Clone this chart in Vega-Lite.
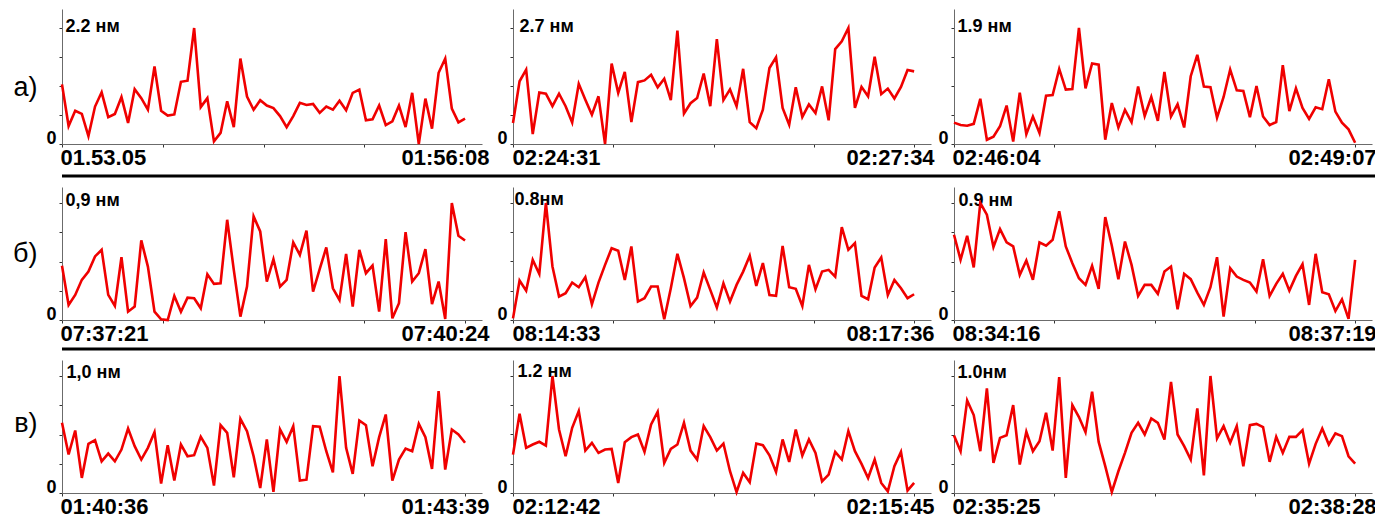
{
  "$schema": "https://vega.github.io/schema/vega-lite/v6.json",
  "padding": {"left": 12, "top": 9, "right": 0, "bottom": 0},
  "background": "white",
  "datasets": {
    "a1": [{"s":0,"v":1.13},{"s":3,"v":0.34},{"s":6,"v":0.63},{"s":9,"v":0.57},{"s":12,"v":0.15},{"s":15,"v":0.71},{"s":18,"v":0.98},{"s":21,"v":0.51},{"s":24,"v":0.57},{"s":27,"v":0.89},{"s":30,"v":0.40},{"s":33,"v":1.04},{"s":36,"v":0.87},{"s":39,"v":0.65},{"s":42,"v":1.47},{"s":45,"v":0.63},{"s":48,"v":0.54},{"s":51,"v":0.56},{"s":54,"v":1.18},{"s":57,"v":1.20},{"s":60,"v":2.20},{"s":63,"v":0.70},{"s":66,"v":0.87},{"s":69,"v":0.05},{"s":72,"v":0.21},{"s":75,"v":0.81},{"s":78,"v":0.32},{"s":81,"v":1.62},{"s":84,"v":0.90},{"s":87,"v":0.65},{"s":90,"v":0.83},{"s":93,"v":0.73},{"s":96,"v":0.68},{"s":99,"v":0.53},{"s":102,"v":0.32},{"s":105,"v":0.53},{"s":108,"v":0.78},{"s":111,"v":0.74},{"s":114,"v":0.76},{"s":117,"v":0.59},{"s":120,"v":0.71},{"s":123,"v":0.65},{"s":126,"v":0.82},{"s":129,"v":0.64},{"s":132,"v":0.97},{"s":135,"v":1.03},{"s":138,"v":0.45},{"s":141,"v":0.47},{"s":144,"v":0.73},{"s":147,"v":0.36},{"s":150,"v":0.43},{"s":153,"v":0.73},{"s":156,"v":0.32},{"s":159,"v":0.97},{"s":162,"v":0.00},{"s":165,"v":0.86},{"s":168,"v":0.29},{"s":171,"v":1.35},{"s":174,"v":1.62},{"s":177,"v":0.67},{"s":180,"v":0.41},{"s":183,"v":0.48}],
    "a2": [{"s":0,"v":0.49},{"s":3,"v":1.46},{"s":6,"v":1.73},{"s":9,"v":0.23},{"s":12,"v":1.20},{"s":15,"v":1.17},{"s":18,"v":0.88},{"s":21,"v":1.17},{"s":24,"v":0.88},{"s":27,"v":0.50},{"s":30,"v":1.40},{"s":33,"v":1.03},{"s":36,"v":0.68},{"s":39,"v":1.11},{"s":42,"v":0.00},{"s":45,"v":1.87},{"s":48,"v":1.19},{"s":51,"v":1.68},{"s":54,"v":0.51},{"s":57,"v":1.44},{"s":60,"v":1.48},{"s":63,"v":1.61},{"s":66,"v":1.32},{"s":69,"v":1.52},{"s":72,"v":1.02},{"s":75,"v":2.64},{"s":78,"v":0.71},{"s":81,"v":0.95},{"s":84,"v":1.07},{"s":87,"v":1.64},{"s":90,"v":0.88},{"s":93,"v":2.44},{"s":96,"v":1.02},{"s":99,"v":1.27},{"s":102,"v":0.88},{"s":105,"v":1.75},{"s":108,"v":0.51},{"s":111,"v":0.37},{"s":114,"v":0.80},{"s":117,"v":1.77},{"s":120,"v":2.02},{"s":123,"v":0.84},{"s":126,"v":0.45},{"s":129,"v":1.32},{"s":132,"v":0.63},{"s":135,"v":0.92},{"s":138,"v":0.72},{"s":141,"v":1.34},{"s":144,"v":0.55},{"s":147,"v":2.21},{"s":150,"v":2.39},{"s":153,"v":2.70},{"s":156,"v":0.84},{"s":159,"v":1.33},{"s":162,"v":1.11},{"s":165,"v":2.03},{"s":168,"v":1.16},{"s":171,"v":1.29},{"s":174,"v":1.06},{"s":177,"v":1.33},{"s":180,"v":1.72},{"s":183,"v":1.69}],
    "a3": [{"s":0,"v":0.35},{"s":3,"v":0.31},{"s":6,"v":0.30},{"s":9,"v":0.33},{"s":12,"v":0.74},{"s":15,"v":0.07},{"s":18,"v":0.12},{"s":21,"v":0.29},{"s":24,"v":0.63},{"s":27,"v":0.04},{"s":30,"v":0.84},{"s":33,"v":0.16},{"s":36,"v":0.45},{"s":39,"v":0.18},{"s":42,"v":0.79},{"s":45,"v":0.80},{"s":48,"v":1.23},{"s":51,"v":0.89},{"s":54,"v":0.90},{"s":57,"v":1.90},{"s":60,"v":0.91},{"s":63,"v":1.32},{"s":66,"v":1.30},{"s":69,"v":0.07},{"s":72,"v":0.67},{"s":75,"v":0.27},{"s":78,"v":0.56},{"s":81,"v":0.36},{"s":84,"v":0.94},{"s":87,"v":0.46},{"s":90,"v":0.77},{"s":93,"v":0.38},{"s":96,"v":1.18},{"s":99,"v":0.45},{"s":102,"v":0.65},{"s":105,"v":0.27},{"s":108,"v":1.11},{"s":111,"v":1.46},{"s":114,"v":0.94},{"s":117,"v":0.93},{"s":120,"v":0.43},{"s":123,"v":0.77},{"s":126,"v":1.22},{"s":129,"v":0.88},{"s":132,"v":0.87},{"s":135,"v":0.44},{"s":138,"v":0.95},{"s":141,"v":0.45},{"s":144,"v":0.31},{"s":147,"v":0.36},{"s":150,"v":1.29},{"s":153,"v":0.54},{"s":156,"v":0.91},{"s":159,"v":0.59},{"s":162,"v":0.41},{"s":165,"v":0.60},{"s":168,"v":0.57},{"s":171,"v":1.06},{"s":174,"v":0.53},{"s":177,"v":0.35},{"s":180,"v":0.24},{"s":183,"v":0.02}],
    "b1": [{"s":0,"v":0.417},{"s":3,"v":0.116},{"s":6,"v":0.193},{"s":9,"v":0.309},{"s":12,"v":0.373},{"s":15,"v":0.489},{"s":18,"v":0.54},{"s":21,"v":0.193},{"s":24,"v":0.108},{"s":27,"v":0.483},{"s":30,"v":0.064},{"s":33,"v":0.103},{"s":36,"v":0.612},{"s":39,"v":0.411},{"s":42,"v":0.064},{"s":45,"v":0.005},{"s":48,"v":0},{"s":51,"v":0.185},{"s":54,"v":0.064},{"s":57,"v":0.172},{"s":60,"v":0.167},{"s":63,"v":0.09},{"s":66,"v":0.352},{"s":69,"v":0.278},{"s":72,"v":0.283},{"s":75,"v":0.771},{"s":78,"v":0.386},{"s":81,"v":0.026},{"s":84,"v":0.257},{"s":87,"v":0.797},{"s":90,"v":0.681},{"s":93,"v":0.296},{"s":96,"v":0.468},{"s":99,"v":0.257},{"s":102,"v":0.309},{"s":105,"v":0.597},{"s":108,"v":0.501},{"s":111,"v":0.687},{"s":114,"v":0.219},{"s":117,"v":0.391},{"s":120,"v":0.558},{"s":123,"v":0.244},{"s":126,"v":0.154},{"s":129,"v":0.509},{"s":132,"v":0.103},{"s":135,"v":0.54},{"s":138,"v":0.36},{"s":141,"v":0.419},{"s":144,"v":0.064},{"s":147,"v":0.622},{"s":150,"v":0.013},{"s":153,"v":0.129},{"s":156,"v":0.676},{"s":159,"v":0.296},{"s":162,"v":0.36},{"s":165,"v":0.545},{"s":168,"v":0.123},{"s":171,"v":0.296},{"s":174,"v":0.008},{"s":177,"v":0.9},{"s":180,"v":0.648},{"s":183,"v":0.612}],
    "b2": [{"s":0,"v":0.011},{"s":3,"v":0.27},{"s":6,"v":0.201},{"s":9,"v":0.411},{"s":12,"v":0.315},{"s":15,"v":0.8},{"s":18,"v":0.366},{"s":21,"v":0.16},{"s":24,"v":0.183},{"s":27,"v":0.256},{"s":30,"v":0.224},{"s":33,"v":0.293},{"s":36,"v":0.107},{"s":39,"v":0.256},{"s":42,"v":0.377},{"s":45,"v":0.491},{"s":48,"v":0.473},{"s":51,"v":0.274},{"s":54,"v":0.503},{"s":57,"v":0.126},{"s":60,"v":0.149},{"s":63,"v":0.229},{"s":66,"v":0.229},{"s":69,"v":0.005},{"s":72,"v":0.217},{"s":75,"v":0.453},{"s":78,"v":0.286},{"s":81,"v":0.096},{"s":84,"v":0.153},{"s":87,"v":0.325},{"s":90,"v":0.206},{"s":93,"v":0.085},{"s":96,"v":0.251},{"s":99,"v":0.126},{"s":102,"v":0.24},{"s":105,"v":0.331},{"s":108,"v":0.439},{"s":111,"v":0.233},{"s":114,"v":0.389},{"s":117,"v":0.171},{"s":120,"v":0.165},{"s":123,"v":0.507},{"s":126,"v":0.224},{"s":129,"v":0.213},{"s":132,"v":0.096},{"s":135,"v":0.377},{"s":138,"v":0.21},{"s":141,"v":0.331},{"s":144,"v":0.343},{"s":147,"v":0.297},{"s":150,"v":0.635},{"s":153,"v":0.48},{"s":156,"v":0.526},{"s":159,"v":0.165},{"s":162,"v":0.142},{"s":165,"v":0.359},{"s":168,"v":0.427},{"s":171,"v":0.171},{"s":174,"v":0.274},{"s":177,"v":0.217},{"s":180,"v":0.149},{"s":183,"v":0.176}],
    "b3": [{"s":0,"v":0.656},{"s":3,"v":0.463},{"s":6,"v":0.648},{"s":9,"v":0.404},{"s":12,"v":0.9},{"s":15,"v":0.81},{"s":18,"v":0.561},{"s":21,"v":0.699},{"s":24,"v":0.597},{"s":27,"v":0.566},{"s":30,"v":0.347},{"s":33,"v":0.458},{"s":36,"v":0.309},{"s":39,"v":0.597},{"s":42,"v":0.571},{"s":45,"v":0.617},{"s":48,"v":0.836},{"s":51,"v":0.566},{"s":54,"v":0.437},{"s":57,"v":0.321},{"s":60,"v":0.27},{"s":63,"v":0.417},{"s":66,"v":0.239},{"s":69,"v":0.792},{"s":72,"v":0.571},{"s":75,"v":0.314},{"s":78,"v":0.604},{"s":81,"v":0.424},{"s":84,"v":0.185},{"s":87,"v":0.27},{"s":90,"v":0.27},{"s":93,"v":0.201},{"s":96,"v":0.373},{"s":99,"v":0.411},{"s":102,"v":0.082},{"s":105,"v":0.355},{"s":108,"v":0.314},{"s":111,"v":0.211},{"s":114,"v":0.116},{"s":117,"v":0.252},{"s":120,"v":0.483},{"s":123,"v":0.026},{"s":126,"v":0.399},{"s":129,"v":0.334},{"s":132,"v":0.309},{"s":135,"v":0.288},{"s":138,"v":0.219},{"s":141,"v":0.468},{"s":144,"v":0.185},{"s":147,"v":0.278},{"s":150,"v":0.355},{"s":153,"v":0.226},{"s":156,"v":0.339},{"s":159,"v":0.429},{"s":162,"v":0.116},{"s":165,"v":0.509},{"s":168,"v":0.213},{"s":171,"v":0.198},{"s":174,"v":0.069},{"s":177,"v":0.159},{"s":180,"v":0.008},{"s":183,"v":0.463}],
    "c1": [{"s":0,"v":0.6},{"s":3,"v":0.329},{"s":6,"v":0.534},{"s":9,"v":0.129},{"s":12,"v":0.42},{"s":15,"v":0.451},{"s":18,"v":0.271},{"s":21,"v":0.337},{"s":24,"v":0.271},{"s":27,"v":0.371},{"s":30,"v":0.551},{"s":33,"v":0.4},{"s":36,"v":0.286},{"s":39,"v":0.386},{"s":42,"v":0.52},{"s":45,"v":0.08},{"s":48,"v":0.409},{"s":51,"v":0.106},{"s":54,"v":0.414},{"s":57,"v":0.314},{"s":60,"v":0.323},{"s":63,"v":0.48},{"s":66,"v":0.386},{"s":69,"v":0.063},{"s":72,"v":0.58},{"s":75,"v":0.514},{"s":78,"v":0.134},{"s":81,"v":0.634},{"s":84,"v":0.529},{"s":87,"v":0.314},{"s":90,"v":0.043},{"s":93,"v":0.457},{"s":96,"v":0.009},{"s":99,"v":0.543},{"s":102,"v":0.437},{"s":105,"v":0.571},{"s":108,"v":0.106},{"s":111,"v":0.114},{"s":114,"v":0.571},{"s":117,"v":0.566},{"s":120,"v":0.357},{"s":123,"v":0.177},{"s":126,"v":1.0},{"s":129,"v":0.386},{"s":132,"v":0.163},{"s":135,"v":0.62},{"s":138,"v":0.58},{"s":141,"v":0.229},{"s":144,"v":0.477},{"s":147,"v":0.671},{"s":150,"v":0.106},{"s":153,"v":0.286},{"s":156,"v":0.38},{"s":159,"v":0.357},{"s":162,"v":0.591},{"s":165,"v":0.477},{"s":168,"v":0.206},{"s":171,"v":0.871},{"s":174,"v":0.2},{"s":177,"v":0.543},{"s":180,"v":0.5},{"s":183,"v":0.429}],
    "c2": [{"s":0,"v":0.394},{"s":3,"v":0.813},{"s":6,"v":0.463},{"s":9,"v":0.497},{"s":12,"v":0.525},{"s":15,"v":0.487},{"s":18,"v":1.2},{"s":21,"v":0.651},{"s":24,"v":0.377},{"s":27,"v":0.669},{"s":30,"v":0.84},{"s":33,"v":0.435},{"s":36,"v":0.514},{"s":39,"v":0.411},{"s":42,"v":0.446},{"s":45,"v":0.453},{"s":48,"v":0.103},{"s":51,"v":0.521},{"s":54,"v":0.573},{"s":57,"v":0.6},{"s":60,"v":0.422},{"s":63,"v":0.703},{"s":66,"v":0.833},{"s":69,"v":0.309},{"s":72,"v":0.453},{"s":75,"v":0.497},{"s":78,"v":0.72},{"s":81,"v":0.435},{"s":84,"v":0.343},{"s":87,"v":0.686},{"s":90,"v":0.573},{"s":93,"v":0.435},{"s":96,"v":0.507},{"s":99,"v":0.223},{"s":102,"v":0.01},{"s":105,"v":0.206},{"s":108,"v":0.11},{"s":111,"v":0.507},{"s":114,"v":0.49},{"s":117,"v":0.387},{"s":120,"v":0.216},{"s":123,"v":0.549},{"s":126,"v":0.319},{"s":129,"v":0.651},{"s":132,"v":0.384},{"s":135,"v":0.549},{"s":138,"v":0.411},{"s":141,"v":0.12},{"s":144,"v":0.189},{"s":147,"v":0.422},{"s":150,"v":0.343},{"s":153,"v":0.634},{"s":156,"v":0.429},{"s":159,"v":0.298},{"s":162,"v":0.154},{"s":165,"v":0.343},{"s":168,"v":0.103},{"s":171,"v":0.017},{"s":174,"v":0.274},{"s":177,"v":0.422},{"s":180,"v":0.024},{"s":183,"v":0.103}],
    "c3": [{"s":0,"v":0.491},{"s":3,"v":0.357},{"s":6,"v":0.791},{"s":9,"v":0.666},{"s":12,"v":0.357},{"s":15,"v":0.894},{"s":18,"v":0.257},{"s":21,"v":0.471},{"s":24,"v":0.494},{"s":27,"v":0.751},{"s":30,"v":0.243},{"s":33,"v":0.523},{"s":36,"v":0.357},{"s":39,"v":0.443},{"s":42,"v":0.686},{"s":45,"v":0.363},{"s":48,"v":0.99},{"s":51,"v":0.129},{"s":54,"v":0.751},{"s":57,"v":0.649},{"s":60,"v":0.52},{"s":63,"v":0.866},{"s":66,"v":0.437},{"s":69,"v":0.229},{"s":72,"v":0.009},{"s":75,"v":0.186},{"s":78,"v":0.343},{"s":81,"v":0.514},{"s":84,"v":0.6},{"s":87,"v":0.5},{"s":90,"v":0.637},{"s":93,"v":0.6},{"s":96,"v":0.457},{"s":99,"v":0.949},{"s":102,"v":0.5},{"s":105,"v":0.4},{"s":108,"v":0.286},{"s":111,"v":0.723},{"s":114,"v":0.151},{"s":117,"v":1.0},{"s":120,"v":0.466},{"s":123,"v":0.571},{"s":126,"v":0.429},{"s":129,"v":0.571},{"s":132,"v":0.229},{"s":135,"v":0.58},{"s":138,"v":0.591},{"s":141,"v":0.563},{"s":144,"v":0.266},{"s":147,"v":0.48},{"s":150,"v":0.343},{"s":153,"v":0.48},{"s":156,"v":0.48},{"s":159,"v":0.537},{"s":162,"v":0.251},{"s":165,"v":0.42},{"s":168,"v":0.551},{"s":171,"v":0.414},{"s":174,"v":0.509},{"s":177,"v":0.486},{"s":180,"v":0.314},{"s":183,"v":0.251}],
    "rule": [{"v": 0}]
  },
  "config": {
    "view": {"stroke": null},
    "line": {"color": "#f00000", "strokeWidth": 2.6, "strokeJoin": "miter"},
    "axis": {"grid": false, "domainColor": "#6b6b6b", "domainWidth": 1, "tickColor": "#333333", "tickSize": 3, "tickWidth": 1, "labelFont": "Liberation Sans", "labelFontWeight": "bold", "labelColor": "#000000", "labelOverlap": false, "labelFlush": false, "labelBound": false, "titleFont": "Liberation Sans", "titleFontWeight": "normal", "titleColor": "#000000"},
    "axisX": {"labelFontSize": 22, "labelPadding": 0, "labelBaseline": "top", "title": null},
    "axisY": {"labelFontSize": 18}
  },
  "spacing": 9,
  "vconcat": [
    {
      "spacing": 6,
      "vconcat": [
        {
          "spacing": 6,
          "hconcat": [
            {
              "width": 420, "height": 135, "data": {"name": "a1"}, "mark": "line",
              "encoding": {
                "x": {"field": "s", "type": "quantitative", "scale": {"domain": [0, 190.7], "nice": false, "zero": false},
                  "axis": {"values": [0, 45.75, 91.5, 137.25, 183], "labelExpr": "datum.value == 0 ? '01.53.05' : datum.value == 183 ? '01:56:08' : ''",
                    "labelAlign": {"condition": {"test": "datum.value == 0", "value": "left"}, "value": "right"},
                    "labelOffset": {"condition": {"test": "datum.value == 0", "value": -2}, "value": 24}}},
                "y": {"field": "v", "type": "quantitative", "scale": {"domain": [0, 2.56], "nice": false},
                  "axis": {"values": [0, 0.55, 1.1, 1.65, 2.2], "labelExpr": "datum.value == 0 ? '0' : datum.value == 2.2 ? '2.2 нм' : ''",
                    "labelAlign": {"condition": {"test": "datum.value > 0", "value": "left"}, "value": "right"},
                    "labelBaseline": {"condition": {"test": "datum.value > 0", "value": "middle"}, "value": "alphabetic"},
                    "labelPadding": {"condition": {"test": "datum.value > 0", "value": -6}, "value": 3},
                    "labelOffset": -1,
                    "title": "а)", "titleAngle": 0, "titleAlign": "right", "titleBaseline": "middle", "titleFontSize": 27, "titlePadding": 9, "titleY": 78}}
              }
            },
            {
              "spacing": 2,
              "hconcat": [
                {
                  "width": 418, "height": 135, "data": {"name": "a2"}, "mark": "line",
                  "encoding": {
                    "x": {"field": "s", "type": "quantitative", "scale": {"domain": [0, 190.7], "nice": false, "zero": false},
                      "axis": {"values": [0, 45.75, 91.5, 137.25, 183], "labelExpr": "datum.value == 0 ? '02:24:31' : datum.value == 183 ? '02:27:34' : ''",
                        "labelAlign": {"condition": {"test": "datum.value == 0", "value": "left"}, "value": "right"},
                        "labelOffset": {"condition": {"test": "datum.value == 0", "value": -1}, "value": 20}}},
                    "y": {"field": "v", "type": "quantitative", "scale": {"domain": [0, 3.142], "nice": false},
                      "axis": {"values": [0, 0.675, 1.35, 2.025, 2.7], "labelExpr": "datum.value == 0 ? '0' : datum.value == 2.7 ? '2.7 нм' : ''",
                        "labelAlign": {"condition": {"test": "datum.value > 0", "value": "left"}, "value": "right"},
                        "labelBaseline": {"condition": {"test": "datum.value > 0", "value": "middle"}, "value": "alphabetic"},
                        "labelPadding": {"condition": {"test": "datum.value > 0", "value": -9}, "value": 3},
                        "labelOffset": -1, "title": null}}
                  }
                },
                {
                  "width": 418, "height": 135, "data": {"name": "a3"}, "mark": "line",
                  "encoding": {
                    "x": {"field": "s", "type": "quantitative", "scale": {"domain": [0, 190.7], "nice": false, "zero": false},
                      "axis": {"values": [0, 45.75, 91.5, 137.25, 183], "labelExpr": "datum.value == 0 ? '02:46:04' : datum.value == 183 ? '02:49:07' : ''",
                        "labelAlign": {"condition": {"test": "datum.value == 0", "value": "left"}, "value": "right"},
                        "labelOffset": {"condition": {"test": "datum.value == 0", "value": -2}, "value": 21}}},
                    "y": {"field": "v", "type": "quantitative", "scale": {"domain": [0, 2.211], "nice": false},
                      "axis": {"values": [0, 0.475, 0.95, 1.425, 1.9], "labelExpr": "datum.value == 0 ? '0' : datum.value == 1.9 ? '1.9 нм' : ''",
                        "labelAlign": {"condition": {"test": "datum.value > 0", "value": "left"}, "value": "right"},
                        "labelBaseline": {"condition": {"test": "datum.value > 0", "value": "middle"}, "value": "alphabetic"},
                        "labelPadding": {"condition": {"test": "datum.value > 0", "value": -6}, "value": 3},
                        "labelOffset": -1, "title": null}}
                  }
                }
              ]
            }
          ]
        },
        {
          "width": 1338, "height": 1, "data": {"name": "rule"},
          "mark": {"type": "rule", "color": "#000000", "strokeWidth": 3},
          "encoding": {"y": {"field": "v", "type": "quantitative", "scale": {"domain": [0, 1]}, "axis": null}}
        }
      ]
    },
    {
      "spacing": 3,
      "vconcat": [
        {
          "spacing": 6,
          "hconcat": [
            {
              "width": 420, "height": 133, "data": {"name": "b1"}, "mark": "line",
              "encoding": {
                "x": {"field": "s", "type": "quantitative", "scale": {"domain": [0, 190.7], "nice": false, "zero": false},
                  "axis": {"values": [0, 45.75, 91.5, 137.25, 183], "labelExpr": "datum.value == 0 ? '07:37:21' : datum.value == 183 ? '07:40:24' : ''",
                    "labelAlign": {"condition": {"test": "datum.value == 0", "value": "left"}, "value": "right"},
                    "labelOffset": {"condition": {"test": "datum.value == 0", "value": -2}, "value": 24}}},
                "y": {"field": "v", "type": "quantitative", "scale": {"domain": [0, 1.0231], "nice": false},
                  "axis": {"values": [0, 0.225, 0.45, 0.675, 0.9], "labelExpr": "datum.value == 0 ? '0' : datum.value == 0.9 ? '0,9 нм' : ''",
                    "labelAlign": {"condition": {"test": "datum.value > 0", "value": "left"}, "value": "right"},
                    "labelBaseline": {"condition": {"test": "datum.value > 0", "value": "middle"}, "value": "alphabetic"},
                    "labelPadding": {"condition": {"test": "datum.value > 0", "value": -6}, "value": 3},
                    "labelOffset": {"condition": {"test": "datum.value > 0", "value": -3}, "value": -1},
                    "title": "б)", "titleAngle": 0, "titleAlign": "right", "titleBaseline": "middle", "titleFontSize": 27, "titlePadding": 9, "titleY": 66}}
              }
            },
            {
              "spacing": 2,
              "hconcat": [
                {
                  "width": 418, "height": 133, "data": {"name": "b2"}, "mark": "line",
                  "encoding": {
                    "x": {"field": "s", "type": "quantitative", "scale": {"domain": [0, 190.7], "nice": false, "zero": false},
                      "axis": {"values": [0, 45.75, 91.5, 137.25, 183], "labelExpr": "datum.value == 0 ? '08:14:33' : datum.value == 183 ? '08:17:36' : ''",
                        "labelAlign": {"condition": {"test": "datum.value == 0", "value": "left"}, "value": "right"},
                        "labelOffset": {"condition": {"test": "datum.value == 0", "value": -1}, "value": 20}}},
                    "y": {"field": "v", "type": "quantitative", "scale": {"domain": [0, 0.9094], "nice": false},
                      "axis": {"values": [0, 0.2, 0.4, 0.6, 0.8], "labelExpr": "datum.value == 0 ? '0' : datum.value == 0.8 ? '0.8нм' : ''",
                        "labelAlign": {"condition": {"test": "datum.value > 0", "value": "left"}, "value": "right"},
                        "labelBaseline": {"condition": {"test": "datum.value > 0", "value": "middle"}, "value": "alphabetic"},
                        "labelPadding": {"condition": {"test": "datum.value > 0", "value": -4}, "value": 3},
                        "labelOffset": {"condition": {"test": "datum.value > 0", "value": -3}, "value": -1}, "title": null}}
                  }
                },
                {
                  "width": 418, "height": 133, "data": {"name": "b3"}, "mark": "line",
                  "encoding": {
                    "x": {"field": "s", "type": "quantitative", "scale": {"domain": [0, 190.7], "nice": false, "zero": false},
                      "axis": {"values": [0, 45.75, 91.5, 137.25, 183], "labelExpr": "datum.value == 0 ? '08:34:16' : datum.value == 183 ? '08:37:19' : ''",
                        "labelAlign": {"condition": {"test": "datum.value == 0", "value": "left"}, "value": "right"},
                        "labelOffset": {"condition": {"test": "datum.value == 0", "value": -2}, "value": 21}}},
                    "y": {"field": "v", "type": "quantitative", "scale": {"domain": [0, 1.0231], "nice": false},
                      "axis": {"values": [0, 0.225, 0.45, 0.675, 0.9], "labelExpr": "datum.value == 0 ? '0' : datum.value == 0.9 ? '0.9 нм' : ''",
                        "labelAlign": {"condition": {"test": "datum.value > 0", "value": "left"}, "value": "right"},
                        "labelBaseline": {"condition": {"test": "datum.value > 0", "value": "middle"}, "value": "alphabetic"},
                        "labelPadding": {"condition": {"test": "datum.value > 0", "value": -7}, "value": 3},
                        "labelOffset": {"condition": {"test": "datum.value > 0", "value": -3}, "value": -1}, "title": null}}
                  }
                }
              ]
            }
          ]
        },
        {
          "width": 1338, "height": 1, "data": {"name": "rule"},
          "mark": {"type": "rule", "color": "#000000", "strokeWidth": 3},
          "encoding": {"y": {"field": "v", "type": "quantitative", "scale": {"domain": [0, 1]}, "axis": null}}
        }
      ]
    },
    {
      "spacing": 6,
      "hconcat": [
        {
          "width": 420, "height": 133, "data": {"name": "c1"}, "mark": "line",
          "encoding": {
            "x": {"field": "s", "type": "quantitative", "scale": {"domain": [0, 190.7], "nice": false, "zero": false},
              "axis": {"values": [0, 45.75, 91.5, 137.25, 183], "labelExpr": "datum.value == 0 ? '01:40:36' : datum.value == 183 ? '01:43:39' : ''",
                "labelAlign": {"condition": {"test": "datum.value == 0", "value": "left"}, "value": "right"},
                "labelOffset": {"condition": {"test": "datum.value == 0", "value": -2}, "value": 24}}},
            "y": {"field": "v", "type": "quantitative", "scale": {"domain": [0, 1.1368], "nice": false},
              "axis": {"values": [0, 0.25, 0.5, 0.75, 1], "labelExpr": "datum.value == 0 ? '0' : datum.value == 1 ? '1,0 нм' : ''",
                "labelAlign": {"condition": {"test": "datum.value > 0", "value": "left"}, "value": "right"},
                "labelBaseline": {"condition": {"test": "datum.value > 0", "value": "middle"}, "value": "alphabetic"},
                "labelPadding": {"condition": {"test": "datum.value > 0", "value": -7}, "value": 3},
                "labelOffset": {"condition": {"test": "datum.value > 0", "value": -4}, "value": -1},
                "title": "в)", "titleAngle": 0, "titleAlign": "right", "titleBaseline": "middle", "titleFontSize": 27, "titlePadding": 9, "titleY": 63}}
          }
        },
        {
          "spacing": 2,
          "hconcat": [
            {
              "width": 418, "height": 133, "data": {"name": "c2"}, "mark": "line",
              "encoding": {
                "x": {"field": "s", "type": "quantitative", "scale": {"domain": [0, 190.7], "nice": false, "zero": false},
                  "axis": {"values": [0, 45.75, 91.5, 137.25, 183], "labelExpr": "datum.value == 0 ? '02:12:42' : datum.value == 183 ? '02:15:45' : ''",
                    "labelAlign": {"condition": {"test": "datum.value == 0", "value": "left"}, "value": "right"},
                    "labelOffset": {"condition": {"test": "datum.value == 0", "value": -1}, "value": 20}}},
                "y": {"field": "v", "type": "quantitative", "scale": {"domain": [0, 1.3641], "nice": false},
                  "axis": {"values": [0, 0.3, 0.6, 0.9, 1.2], "labelExpr": "datum.value == 0 ? '0' : datum.value == 1.2 ? '1.2 нм' : ''",
                    "labelAlign": {"condition": {"test": "datum.value > 0", "value": "left"}, "value": "right"},
                    "labelBaseline": {"condition": {"test": "datum.value > 0", "value": "middle"}, "value": "alphabetic"},
                    "labelPadding": {"condition": {"test": "datum.value > 0", "value": -7}, "value": 3},
                    "labelOffset": {"condition": {"test": "datum.value > 0", "value": -4}, "value": -1}, "title": null}}
              }
            },
            {
              "width": 418, "height": 133, "data": {"name": "c3"}, "mark": "line",
              "encoding": {
                "x": {"field": "s", "type": "quantitative", "scale": {"domain": [0, 190.7], "nice": false, "zero": false},
                  "axis": {"values": [0, 45.75, 91.5, 137.25, 183], "labelExpr": "datum.value == 0 ? '02:35:25' : datum.value == 183 ? '02:38:28' : ''",
                    "labelAlign": {"condition": {"test": "datum.value == 0", "value": "left"}, "value": "right"},
                    "labelOffset": {"condition": {"test": "datum.value == 0", "value": -2}, "value": 21}}},
                "y": {"field": "v", "type": "quantitative", "scale": {"domain": [0, 1.1368], "nice": false},
                  "axis": {"values": [0, 0.25, 0.5, 0.75, 1], "labelExpr": "datum.value == 0 ? '0' : datum.value == 1 ? '1.0нм' : ''",
                    "labelAlign": {"condition": {"test": "datum.value > 0", "value": "left"}, "value": "right"},
                    "labelBaseline": {"condition": {"test": "datum.value > 0", "value": "middle"}, "value": "alphabetic"},
                    "labelPadding": {"condition": {"test": "datum.value > 0", "value": -6}, "value": 3},
                    "labelOffset": {"condition": {"test": "datum.value > 0", "value": -4}, "value": -1}, "title": null}}
              }
            }
          ]
        }
      ]
    }
  ]
}
